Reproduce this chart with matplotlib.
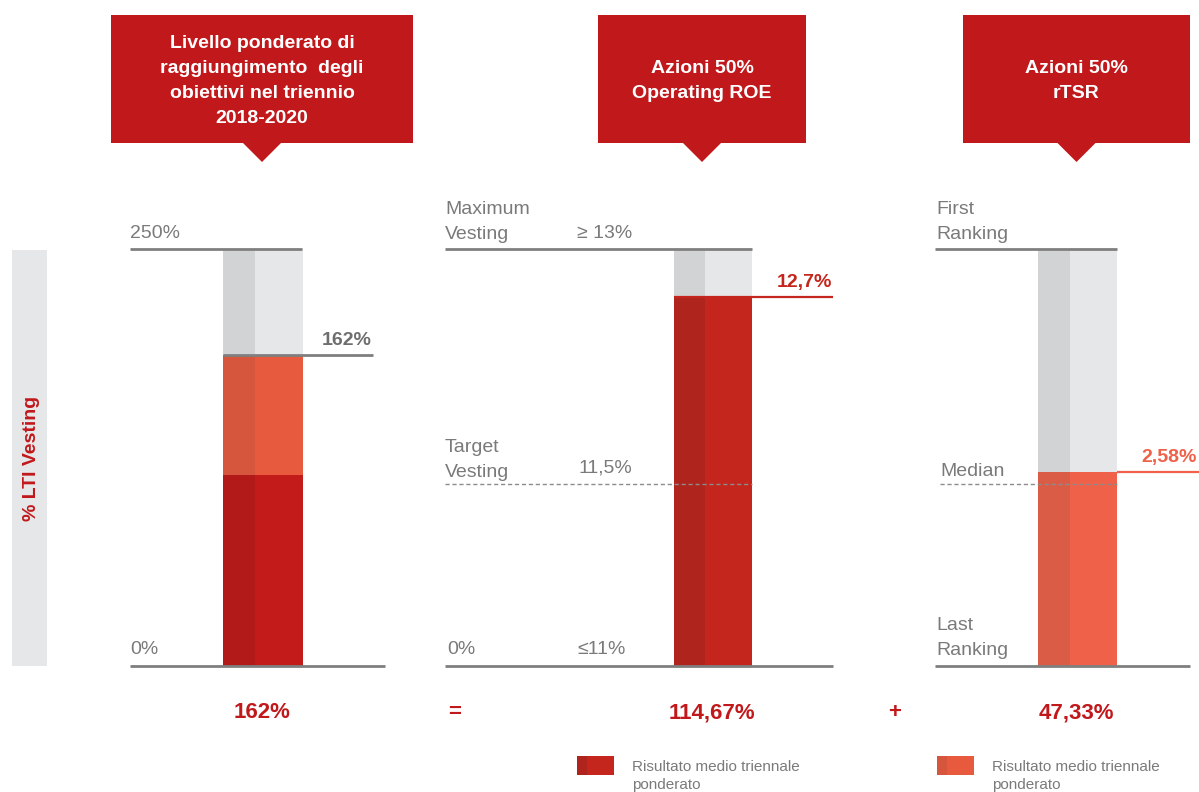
import matplotlib.pyplot as plt
from matplotlib.patches import Rectangle, Polygon

plt.rcParams['font.family'] = ['Liberation Sans', 'DejaVu Sans']

# header texts
headers = ['Livello ponderato di\nraggiungimento  degli\nobiettivi nel triennio\n2018-2020',
           'Azioni 50%\nOperating ROE',
           'Azioni 50%\nrTSR']

# bar levels, read as share of the full bar height (0 = bottom line, 1 = top line)
p1_levels = [0.458, 0.746]        # dark red top, orange top (162%)
p2_actual = 0.885                 # 12,7%
p2_target = 0.436                 # 11,5%
p3_actual = 0.465                 # 2,58%
p3_median = 0.436

value_labels = ['162%', '114,67%', '47,33%']
level_labels = ['162%', '12,7%', '2,58%']
operators = ['=', '+']

RED = '#C1181B'
DARK_RED = '#C21B1A'
DARK_RED_L = '#B21A1A'
ROE_RED = '#C4251C'
ROE_RED_L = '#AF241C'
ORANGE = '#E85A3E'
ORANGE_L = '#D5553D'
TSR_OR = '#EF6149'
TSR_OR_L = '#DB5C46'
GREY_R = '#E6E7E8'
GREY_L = '#D1D3D4'
LINE = '#7F7F7F'
TXT = '#7A7A7A'

fig = plt.figure(figsize=(11.99, 7.92), dpi=100)

# background axes in pixel coordinates
ax0 = fig.add_axes([0, 0, 1, 1])
ax0.set_xlim(0, 1199)
ax0.set_ylim(792, 0)
ax0.axis('off')

# bar axes: level 0 at y=666px, level 1 at y=249px
ax = fig.add_axes([0, 0, 1, 1])
ax.set_xlim(0, 1199)
ax.set_ylim(-126 / 417, 666 / 417)
ax.axis('off')
ax.patch.set_alpha(0)

# header boxes
boxes = [(111, 413), (598, 806), (963, 1190)]
for (x0, x1), txt in zip(boxes, headers):
    ax0.add_patch(Rectangle((x0, 15), x1 - x0, 128, color=RED, lw=0))
    cx = (x0 + x1) / 2
    ax0.add_patch(Polygon([(cx - 20, 142), (cx + 20, 142), (cx, 162)], color=RED, lw=0))
    ax0.text(cx, 81, txt, color='white', fontsize=14, fontweight='bold',
             ha='center', va='center', linespacing=1.6)

# side band
ax0.add_patch(Rectangle((12, 250), 35, 416, color=GREY_R, lw=0))
ax0.text(31, 458, '% LTI Vesting', rotation=90, color=RED, fontsize=14,
         fontweight='bold', ha='center', va='center')


def column(x, w, segs):
    # grey background then coloured stacks, each split in a darker left strip
    wl = w * 0.4
    ax.bar(x, 1, width=wl, bottom=0, align='edge', color=GREY_L, lw=0)
    ax.bar(x + wl, 1, width=w - wl, bottom=0, align='edge', color=GREY_R, lw=0)
    bottom = 0
    for top, cl, cr in segs:
        ax.bar(x, top - bottom, width=wl, bottom=bottom, align='edge', color=cl, lw=0)
        ax.bar(x + wl, top - bottom, width=w - wl, bottom=bottom, align='edge', color=cr, lw=0)
        bottom = top


# panel 1
column(223, 80, [(p1_levels[0], DARK_RED_L, DARK_RED), (p1_levels[1], ORANGE_L, ORANGE)])
ax.hlines(1, 130, 302, color=LINE, lw=2)
ax.hlines(0, 130, 385, color=LINE, lw=2)
ax.hlines(p1_levels[1], 223, 373, color=LINE, lw=2)
ax.text(372, p1_levels[1] + 0.015, level_labels[0], color='#6E6E6E', fontsize=14,
        fontweight='bold', ha='right', va='bottom')
ax0.text(130, 234, '250%', color=TXT, fontsize=14, va='center')
ax0.text(130, 650, '0%', color=TXT, fontsize=14, va='center')

# panel 2
column(674, 78, [(p2_actual, ROE_RED_L, ROE_RED)])
ax.hlines(1, 445, 752, color=LINE, lw=2)
ax.hlines(0, 445, 833, color=LINE, lw=2)
ax.hlines(p2_target, 445, 752, color='#8C8C8C', lw=1, linestyles=(0, (3, 2)))
ax.hlines(p2_actual, 674, 833, color=ROE_RED, lw=1.6)
ax.text(832, p2_actual + 0.015, level_labels[1], color=ROE_RED, fontsize=14,
        fontweight='bold', ha='right', va='bottom')
ax0.text(445, 222, 'Maximum\nVesting', color=TXT, fontsize=14, va='center', linespacing=1.6)
ax0.text(577, 234, '≥ 13%', color=TXT, fontsize=14, va='center')
ax0.text(445, 460, 'Target\nVesting', color=TXT, fontsize=14, va='center', linespacing=1.6)
ax0.text(578, 468, '11,5%', color=TXT, fontsize=14, va='center')
ax0.text(447, 650, '0%', color=TXT, fontsize=14, va='center')
ax0.text(577, 650, '≤11%', color=TXT, fontsize=14, va='center')

# panel 3
column(1038, 79, [(p3_actual, TSR_OR_L, TSR_OR)])
ax.hlines(1, 935, 1117, color=LINE, lw=2)
ax.hlines(0, 935, 1190, color=LINE, lw=2)
ax.hlines(p3_median, 940, 1117, color='#8C8C8C', lw=1, linestyles=(0, (3, 2)))
ax.hlines(p3_actual, 1117, 1199, color=TSR_OR, lw=1.6)
ax.text(1197, p3_actual + 0.015, level_labels[2], color=TSR_OR, fontsize=14,
        fontweight='bold', ha='right', va='bottom')
ax0.text(936, 222, 'First\nRanking', color=TXT, fontsize=14, va='center', linespacing=1.6)
ax0.text(940, 471, 'Median', color=TXT, fontsize=14, va='center')
ax0.text(936, 638, 'Last\nRanking', color=TXT, fontsize=14, va='center', linespacing=1.6)

# bottom values
for cx, lab in zip([262, 712, 1076], value_labels):
    ax0.text(cx, 713, lab, color=RED, fontsize=16, fontweight='bold', ha='center', va='center')
for cx, op in zip([455, 895], operators):
    ax0.text(cx, 713, op, color=RED, fontsize=16, fontweight='bold', ha='center', va='center')

# legend
for x0, cl, cr in [(577, ROE_RED_L, ROE_RED), (937, ORANGE_L, ORANGE)]:
    ax0.add_patch(Rectangle((x0, 756), 10, 19, color=cl, lw=0))
    ax0.add_patch(Rectangle((x0 + 10, 756), 27, 19, color=cr, lw=0))
    ax0.text(x0 + 55, 776, 'Risultato medio triennale\nponderato', color=TXT,
             fontsize=11, va='center', linespacing=1.35)

fig.savefig('out.png', dpi=100)
